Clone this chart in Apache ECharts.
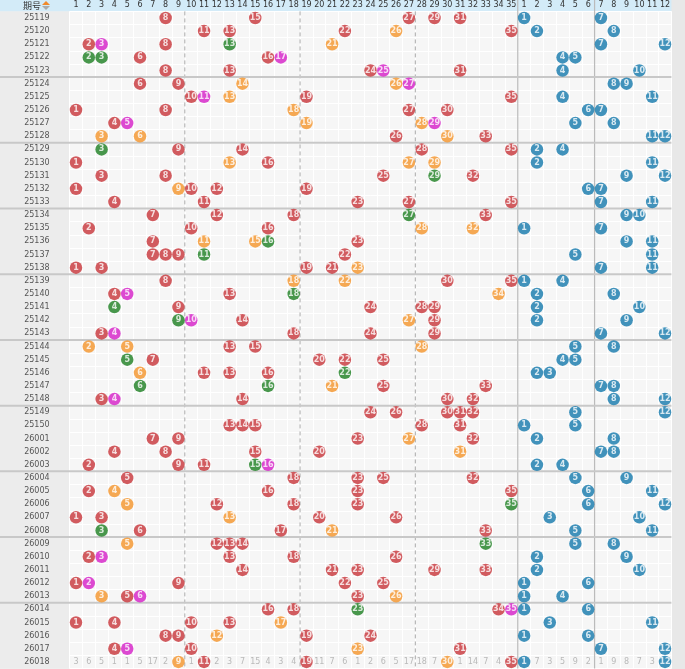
<!DOCTYPE html>
<html><head><meta charset="utf-8">
<script src="https://cdn.jsdelivr.net/npm/echarts@6/dist/echarts.min.js"></script>
<style>html,body{margin:0;padding:0;background:#f0f0f0}#c{width:685px;height:669px}</style>
</head><body><div id="c"></div>
<script>
const issues=["25119","25120","25121","25122","25123","25124","25125","25126","25127","25128","25129","25130","25131","25132","25133","25134","25135","25136","25137","25138","25139","25140","25141","25142","25143","25144","25145","25146","25147","25148","25149","25150","26001","26002","26003","26004","26005","26006","26007","26008","26009","26010","26011","26012","26013","26014","26015","26016","26017","26018"];
const frontTicks=Array.from({length:35},(_,i)=>String(i+1));
const backTicks=Array.from({length:12},(_,i)=>String(i+1));
// front balls per issue: number + colour code (r red, o orange, g green, m magenta)
const front=[
"8r 15r 27r 29r 31r","11r 13r 22r 26o 35r","2r 3m 8r 13g 21o","2g 3g 6r 16r 17m","8r 13r 24r 25m 31r",
"6r 9r 14o 26o 27m","10r 11m 13o 19r 35r","1r 8r 18o 27r 30r","4r 5m 19o 28o 29m","3o 6o 26r 30o 33r",
"3g 9r 14r 28r 35r","1r 13o 16r 27o 29o","3r 8r 25r 29g 32r","1r 9o 10r 12r 19r","4r 11r 23r 27r 35r",
"7r 12r 18r 27g 33r","2r 10r 16r 28o 32o","7r 11o 15o 16g 23r","7r 8r 9r 11g 22r","1r 3r 19r 21r 23o",
"8r 18o 22o 30r 35r","4r 5m 13r 18g 34o","4g 9r 24r 28r 29r","9g 10m 14r 27o 29r","3r 4m 18r 24r 29r",
"2o 5o 13r 15r 28o","5g 7r 20r 22r 25r","6o 11r 13r 16r 22g","6g 16g 21o 25r 33r","3r 4m 14r 30r 32r",
"24r 26r 30r 31r 32r","13r 14r 15r 28r 31r","7r 9r 23r 27o 32r","4r 8r 15r 20r 31o","2r 9r 11r 15g 16m",
"5r 18r 23r 25r 32r","2r 4o 16r 23r 35r","5o 12r 18r 23r 35g","1r 3r 13o 20r 26r","3g 6r 17r 21o 33r",
"5o 12r 13r 14r 33g","2r 3m 13r 18r 26r","14r 21r 23r 29r 33r","1r 2m 9r 22r 25r","3o 5r 6m 23r 26o",
"16r 18r 23g 34r 35m","1r 4r 10r 13r 17o","8r 9r 12o 19r 24r","4r 5m 10r 23o 31r","9o 11r 19r 30o 35r"];
const back=[[1,7],[2,8],[7,12],[4,5],[4,10],[8,9],[4,11],[6,7],[5,8],[11,12],
[2,4],[2,11],[9,12],[6,7],[7,11],[9,10],[1,7],[9,11],[5,11],[7,11],
[1,4],[2,8],[2,10],[2,9],[7,12],[5,8],[4,5],[2,3],[7,8],[8,12],
[5,12],[1,5],[2,8],[7,8],[2,4],[5,9],[6,11],[6,12],[3,10],[5,11],
[5,8],[2,9],[2,10],[1,6],[1,4],[1,6],[3,11],[1,6],[7,12],[1,12]];
// omission counts shown in the last issue row (null = drawn ball)
const lastOmitFront=[3,6,5,1,1,5,17,2,null,1,null,2,3,7,15,4,3,4,null,11,7,6,1,2,6,5,17,18,7,null,1,14,7,4,null];
const lastOmitBack=[null,7,3,5,9,2,1,9,8,7,3,null];

(function(){
const cols=frontTicks.concat(backTicks);
const colors={r:'#c8353a',o:'#f5952a',g:'#1d7f22',m:'#d61ec8',b:'#1479ad'};
const buckets={r:[],o:[],g:[],m:[],b:[]};
front.forEach((s,row)=>s.split(' ').forEach(t=>{
  const n=parseInt(t),c=t.slice(-1);
  buckets[c].push([n-1,row,n]);
}));
back.forEach((a,row)=>a.forEach(n=>buckets.b.push([34+n,row,n])));
const omit=[];
lastOmitFront.concat(lastOmitBack).forEach((v,i)=>{if(v!==null)omit.push([i,issues.length-1,v]);});

const chart=echarts.init(document.getElementById('c'));
const series=Object.keys(buckets).map(k=>({
  type:'scatter',data:buckets[k],symbolSize:12.5,
  itemStyle:{color:colors[k]},
  label:{show:true,position:'inside',formatter:p=>p.value[2],color:'#fff',fontSize:8,fontWeight:'bold',fontFamily:'DejaVu Sans'},
  z:5
}));
series.push({type:'scatter',data:omit,symbolSize:10,itemStyle:{color:'rgba(0,0,0,0)'},
  labelLayout:{hideOverlap:false},
  label:{show:true,position:'inside',formatter:p=>String(p.value[2]),color:'#aaa',fontSize:8,fontFamily:'DejaVu Sans'},z:4});
const T=11.4,B=0.5,L=69.6,R=13.6;
chart.setOption({
  animation:false,
  grid:{left:L,right:R,top:T,bottom:B,show:true,backgroundColor:'#f6f6f6',borderWidth:0},
  xAxis:{type:'category',data:cols,position:'top',boundaryGap:true,
    axisLine:{show:false},axisTick:{show:false},
    axisLabel:{color:'#333',fontSize:8,margin:2,interval:0,fontFamily:'DejaVu Sans'},
    splitLine:{show:true,interval:0,lineStyle:{color:'#ffffff',width:1}}},
  yAxis:{type:'category',data:issues,inverse:true,boundaryGap:true,
    axisLine:{show:false},axisTick:{show:false},
    axisLabel:{color:'#555',fontSize:8,margin:20,interval:0,fontFamily:'DejaVu Sans'},
    splitLine:{show:true,interval:0,lineStyle:{color:'#ffffff',width:1}}},
  series:series
});
const px=(c,r)=>chart.convertToPixel({gridIndex:0},[c,r]);
const cw=px(1,0)[0]-px(0,0)[0], rh=px(0,1)[1]-px(0,0)[1];
const yb=669-B, xr=685-R;
const g=[
 {type:'rect',shape:{x:0,y:0,width:685,height:T},style:{fill:'#d3ebf8'},z:-1},
 {type:'rect',shape:{x:0,y:T,width:L,height:yb-T},style:{fill:'#ececec'},z:-1},
 {type:'rect',shape:{x:xr,y:0,width:685-xr,height:669},style:{fill:'#e8e8e8'},z:-1},
 {type:'text',style:{x:32,y:6,text:'期号',fill:'#333',font:'9px "Noto Sans CJK SC"',align:'center',verticalAlign:'middle'},z:10},
 {type:'polygon',shape:{points:[[46,1],[50,5],[42,5]]},style:{fill:'#f08a2c'},z:10},
 {type:'polygon',shape:{points:[[42,6],[50,6],[46,10]]},style:{fill:'#aaaaaa'},z:10}
];
[8,17,26].forEach(c=>{const x=px(c,0)[0]+cw/2;g.push({type:'line',shape:{x1:x,y1:T,x2:x,y2:yb},style:{stroke:'#aaa',lineWidth:1,lineDash:[4,3]},z:3});});
[34,40].forEach(c=>{const x=px(c,0)[0]+cw/2;g.push({type:'line',shape:{x1:x,y1:0,x2:x,y2:yb},style:{stroke:'#bbb',lineWidth:1.2},z:3});});
for(let r=4;r<issues.length-1;r+=5){const y=px(0,r)[1]+rh/2;g.push({type:'line',shape:{x1:0,y1:y,x2:xr,y2:y},style:{stroke:'#c8c8c8',lineWidth:2},z:3});}
chart.setOption({graphic:g});
})();
</script></body></html>
